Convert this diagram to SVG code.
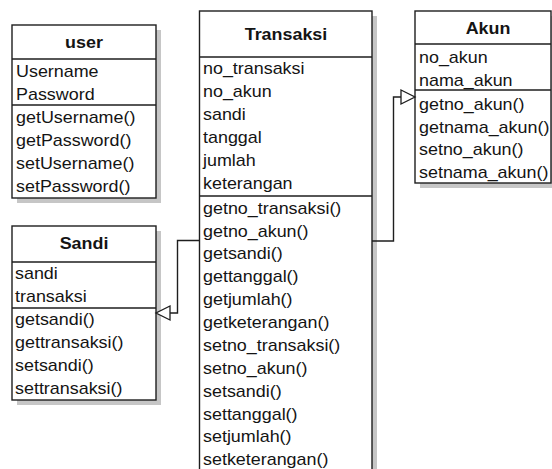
<svg xmlns="http://www.w3.org/2000/svg" width="552" height="469" viewBox="0 0 552 469">
<style>
.shadow{fill:#c6c6c6;stroke:none}
.box{fill:#fff;stroke:#1e1e1e;stroke-width:1.4}
.sep{stroke:#1e1e1e;stroke-width:1.4}
text{font-family:"Liberation Sans",Arial,sans-serif;font-size:16px;fill:#141414}
.title{font-weight:bold;text-anchor:middle}
.conn{fill:none;stroke:#1e1e1e;stroke-width:1.4}
</style>
<defs>
<marker id="tri" markerWidth="16" markerHeight="16" refX="14" refY="7" orient="auto" markerUnits="userSpaceOnUse" overflow="visible">
<path d="M0,0 L14,7 L0,14 Z" fill="#fff" stroke="#1e1e1e" stroke-width="1.3"/>
</marker>
</defs>
<rect width="552" height="469" fill="#fff"/>

<g id="user">
<rect class="shadow" x="17" y="30" width="144" height="173"/>
<rect class="box" x="12" y="25" width="144" height="173"/>
<line class="sep" x1="12" y1="59" x2="156" y2="59"/>
<line class="sep" x1="12" y1="105" x2="156" y2="105"/>
<g transform="translate(84 0) scale(1.12 1)"><text class="title" x="0" y="48">user</text></g>
<g transform="translate(16 0) scale(1.12 1)">
<text x="0" y="77">Username</text>
<text x="0" y="100">Password</text>
<text x="0" y="123">getUsername()</text>
<text x="0" y="146">getPassword()</text>
<text x="0" y="169">setUsername()</text>
<text x="0" y="192">setPassword()</text>
</g>
</g>

<g id="sandi">
<rect class="shadow" x="17" y="231" width="144" height="174"/>
<rect class="box" x="12" y="226" width="144" height="174"/>
<line class="sep" x1="12" y1="262" x2="156" y2="262"/>
<line class="sep" x1="12" y1="308" x2="156" y2="308"/>
<g transform="translate(84 0) scale(1.12 1)"><text class="title" x="0" y="249">Sandi</text></g>
<g transform="translate(15 0) scale(1.12 1)">
<text x="0" y="279">sandi</text>
<text x="0" y="302">transaksi</text>
<text x="0" y="325">getsandi()</text>
<text x="0" y="348">gettransaksi()</text>
<text x="0" y="371">setsandi()</text>
<text x="0" y="394">settransaksi()</text>
</g>
</g>

<g id="transaksi">
<rect class="shadow" x="204" y="16" width="173" height="470"/>
<rect class="box" x="199.5" y="11" width="172.5" height="470"/>
<line class="sep" x1="199.5" y1="57" x2="372" y2="57"/>
<line class="sep" x1="199.5" y1="196" x2="372" y2="196"/>
<g transform="translate(286 0) scale(1.12 1)"><text class="title" x="0" y="40">Transaksi</text></g>
<g transform="translate(203 0) scale(1.12 1)">
<text x="0" y="74">no_transaksi</text>
<text x="0" y="97">no_akun</text>
<text x="0" y="120">sandi</text>
<text x="0" y="143">tanggal</text>
<text x="0" y="166">jumlah</text>
<text x="0" y="189">keterangan</text>
<text x="0" y="214">getno_transaksi()</text>
<text x="0" y="237">getno_akun()</text>
<text x="0" y="259">getsandi()</text>
<text x="0" y="282">gettanggal()</text>
<text x="0" y="305">getjumlah()</text>
<text x="0" y="328">getketerangan()</text>
<text x="0" y="351">setno_transaksi()</text>
<text x="0" y="374">setno_akun()</text>
<text x="0" y="397">setsandi()</text>
<text x="0" y="420">settanggal()</text>
<text x="0" y="442">setjumlah()</text>
<text x="0" y="465">setketerangan()</text>
</g>
</g>

<g id="akun">
<rect class="shadow" x="420" y="16" width="137" height="172"/>
<rect class="box" x="415" y="11" width="136" height="172"/>
<line class="sep" x1="415" y1="44" x2="551" y2="44"/>
<line class="sep" x1="415" y1="90" x2="551" y2="90"/>
<g transform="translate(488 0) scale(1.12 1)"><text class="title" x="0" y="34">Akun</text></g>
<g transform="translate(419 0) scale(1.12 1)">
<text x="0" y="63">no_akun</text>
<text x="0" y="86">nama_akun</text>
<text x="0" y="110">getno_akun()</text>
<text x="0" y="133">getnama_akun()</text>
<text x="0" y="155">setno_akun()</text>
<text x="0" y="178">setnama_akun()</text>
</g>
</g>

<g id="connectors">
<path class="conn" d="M199.5,240.5 H177.5 V313 H156" marker-end="url(#tri)"/>
<path class="conn" d="M372,241 H393.5 V97 H415" marker-end="url(#tri)"/>
</g>
</svg>
